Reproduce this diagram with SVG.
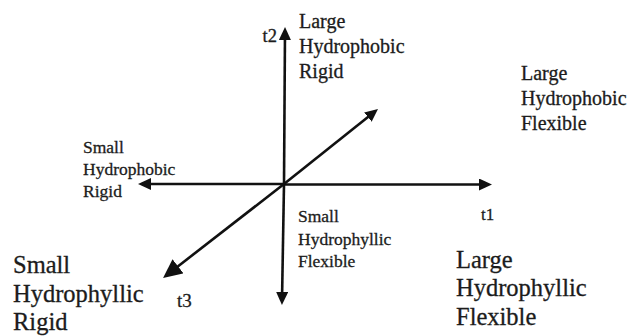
<svg xmlns="http://www.w3.org/2000/svg" width="632" height="336" viewBox="0 0 632 336">
<style>
text{font-family:"Liberation Serif","Times New Roman",serif;fill:#1c1c1c;stroke:#1c1c1c;stroke-width:0.3}
.ax{stroke:#111;stroke-width:2.6;fill:none}
.m{font-size:20px}
.s{font-size:17.5px}
.l{font-size:24.5px}
</style>
<defs>
<marker id="ah" markerUnits="userSpaceOnUse" markerWidth="13" markerHeight="12" refX="9" refY="6" orient="auto">
<path d="M0,0 L13,6 L0,12 z" fill="#111"/>
</marker>
<marker id="ahb" markerUnits="userSpaceOnUse" markerWidth="19" markerHeight="18" refX="15" refY="9" orient="auto">
<path d="M0,0 L19,9 L0,18 z" fill="#111"/>
</marker>
</defs>
<g id="connectors">
<line class="ax" x1="284" y1="184" x2="285" y2="31" marker-end="url(#ah)"/>
<line class="ax" x1="284" y1="184" x2="282" y2="301" marker-end="url(#ah)"/>
<line class="ax" x1="284" y1="184.5" x2="488" y2="184.5" marker-end="url(#ah)"/>
<line class="ax" x1="284" y1="184" x2="142" y2="184" marker-end="url(#ah)"/>
<line class="ax" x1="284" y1="184" x2="374.9" y2="111.5" marker-end="url(#ah)"/>
<line class="ax" x1="284" y1="184" x2="166.2" y2="275.5" marker-end="url(#ahb)"/>
</g>
<g id="axis-labels">
<text x="277" y="42" font-size="18.5" text-anchor="end">t2</text>
<text x="481" y="220" font-size="17">t1</text>
<text x="177" y="307" font-size="19">t3</text>
</g>
<g id="large-hydrophobic-rigid" class="m">
<text x="299" y="28">Large</text>
<text x="299" y="53">Hydrophobic</text>
<text x="299" y="78">Rigid</text>
</g>
<g id="large-hydrophobic-flexible" class="m">
<text x="521" y="80">Large</text>
<text x="521" y="105">Hydrophobic</text>
<text x="521" y="130">Flexible</text>
</g>
<g id="small-hydrophobic-rigid" class="s">
<text x="83" y="153">Small</text>
<text x="83" y="175">Hydrophobic</text>
<text x="83" y="197">Rigid</text>
</g>
<g id="small-hydrophyllic-flexible" class="s">
<text x="298" y="222">Small</text>
<text x="298" y="245">Hydrophyllic</text>
<text x="298" y="267">Flexible</text>
</g>
<g id="large-hydrophyllic-flexible" class="l">
<text x="456" y="268">Large</text>
<text x="456" y="296">Hydrophyllic</text>
<text x="456" y="325">Flexible</text>
</g>
<g id="small-hydrophyllic-rigid" class="l">
<text x="13" y="273">Small</text>
<text x="13" y="302">Hydrophyllic</text>
<text x="13" y="330">Rigid</text>
</g>
</svg>
